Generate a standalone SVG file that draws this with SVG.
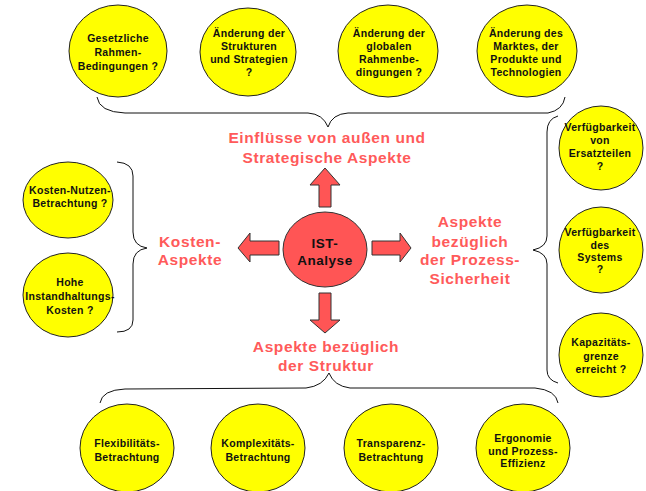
<svg xmlns="http://www.w3.org/2000/svg" width="646" height="491" viewBox="0 0 646 491">
<style>
.y{fill:#FFFF00;stroke:#222;stroke-width:1}
.r{fill:#FF5555;stroke:#333;stroke-width:1}
.t{font-family:"Liberation Sans",Arial,sans-serif;font-weight:bold;font-size:10.5px;fill:#111;text-anchor:middle;letter-spacing:0.3px}
.h{font-family:"Liberation Sans",Arial,sans-serif;font-weight:bold;font-size:15.5px;fill:#FF5A5A;text-anchor:middle;letter-spacing:0.6px}
.c{font-family:"Liberation Sans",Arial,sans-serif;font-weight:bold;font-size:13.5px;fill:#111;text-anchor:middle;letter-spacing:0.5px}
.b{fill:none;stroke:#111;stroke-width:1}
</style>
<rect width="646" height="491" fill="#fff"/>
<g id="connectors">
<path class="b" d="M97,97 Q99,112 125,113 L308,113 Q323,114 328,127 Q332,114 348,113 L548,113 Q563,110 565,97"/>
<path class="b" d="M117,162 Q133,163 133,176 L133,232 Q133,246 147,248 Q133,250 133,264 L133,320 Q133,332 117,332"/>
<path class="b" d="M558,116 Q547,119 547,132 L547,236 Q547,247 533,250 Q547,253 547,264 L547,370 Q547,380 558,383"/>
<path class="b" d="M100,403 Q102,390 125,389 L306,388 Q323,386 329,373 Q334,386 350,388 L535,388 Q556,390 558,403"/>
<polygon class="r" points="319,207 319,185 310,185 325,168 340,185 331,185 331,207"/>
<polygon class="r" points="279,241 250,241 250,233 238,248 250,262 250,255 279,255"/>
<polygon class="r" points="372,241 400,241 400,233 411,248 400,262 400,255 372,255"/>
<polygon class="r" points="319,293 331,293 331,320 340,320 325,333 310,320 319,320"/>
</g>
<g id="ist">
<ellipse class="r" cx="325" cy="249.5" rx="42" ry="37.5"/>
<text class="c" x="325" y="248">IST-</text>
<text class="c" x="325" y="265">Analyse</text>
</g>
<g id="label-top">
<text class="h" x="327" y="143">Einflüsse von außen und</text>
<text class="h" x="327" y="163">Strategische Aspekte</text>
</g>
<g id="label-left">
<text class="h" x="190" y="247">Kosten-</text>
<text class="h" x="190" y="265">Aspekte</text>
</g>
<g id="label-right">
<text class="h" x="470" y="227">Aspekte</text>
<text class="h" x="470" y="247">bezüglich</text>
<text class="h" x="470" y="265">der Prozess-</text>
<text class="h" x="470" y="284">Sicherheit</text>
</g>
<g id="label-bottom">
<text class="h" x="326" y="352">Aspekte bezüglich</text>
<text class="h" x="326" y="371">der Struktur</text>
</g>
<g id="n-gesetzliche">
<ellipse class="y" cx="118" cy="51" rx="49" ry="46"/>
<text class="t" x="118" y="42">Gesetzliche</text>
<text class="t" x="118" y="56">Rahmen-</text>
<text class="t" x="118" y="70">Bedingungen ?</text>
</g>
<g id="n-strukturen">
<ellipse class="y" cx="248" cy="52" rx="48" ry="44"/>
<text class="t" x="249" y="37">Änderung der</text>
<text class="t" x="249" y="50">Strukturen</text>
<text class="t" x="249" y="63">und Strategien</text>
<text class="t" x="249" y="76">?</text>
</g>
<g id="n-global">
<ellipse class="y" cx="388" cy="51" rx="50" ry="46"/>
<text class="t" x="389" y="37">Änderung der</text>
<text class="t" x="389" y="50">globalen</text>
<text class="t" x="389" y="63">Rahmenbe-</text>
<text class="t" x="389" y="76">dingungen ?</text>
</g>
<g id="n-markt">
<ellipse class="y" cx="527" cy="51" rx="50" ry="46"/>
<text class="t" x="526" y="37">Änderung des</text>
<text class="t" x="526" y="50">Marktes, der</text>
<text class="t" x="526" y="63">Produkte und</text>
<text class="t" x="526" y="76">Technologien</text>
</g>
<g id="n-kostennutzen">
<ellipse class="y" cx="68" cy="200" rx="45" ry="38"/>
<text class="t" x="70" y="194">Kosten-Nutzen-</text>
<text class="t" x="70" y="207">Betrachtung ?</text>
</g>
<g id="n-instandhaltung">
<ellipse class="y" cx="68" cy="295" rx="45" ry="42"/>
<text class="t" x="70" y="286">Hohe</text>
<text class="t" x="70" y="300">Instandhaltungs-</text>
<text class="t" x="70" y="314">Kosten ?</text>
</g>
<g id="n-ersatzteile">
<ellipse class="y" cx="601" cy="148" rx="42" ry="42"/>
<text class="t" x="600" y="131">Verfügbarkeit</text>
<text class="t" x="600" y="144">von</text>
<text class="t" x="600" y="157">Ersatzteilen</text>
<text class="t" x="600" y="170">?</text>
</g>
<g id="n-system">
<ellipse class="y" cx="601" cy="250" rx="42" ry="43"/>
<text class="t" x="600" y="236">Verfügbarkeit</text>
<text class="t" x="600" y="249">des</text>
<text class="t" x="600" y="261">Systems</text>
<text class="t" x="600" y="273">?</text>
</g>
<g id="n-kapazitaet">
<ellipse class="y" cx="601" cy="355" rx="42" ry="42"/>
<text class="t" x="601" y="346">Kapazitäts-</text>
<text class="t" x="601" y="360">grenze</text>
<text class="t" x="601" y="373">erreicht ?</text>
</g>
<g id="n-flexibilitaet">
<ellipse class="y" cx="127" cy="448" rx="47" ry="44"/>
<text class="t" x="127" y="447">Flexibilitäts-</text>
<text class="t" x="127" y="461">Betrachtung</text>
</g>
<g id="n-komplexitaet">
<ellipse class="y" cx="258" cy="448" rx="47" ry="44"/>
<text class="t" x="258" y="447">Komplexitäts-</text>
<text class="t" x="258" y="461">Betrachtung</text>
</g>
<g id="n-transparenz">
<ellipse class="y" cx="391" cy="448" rx="47" ry="44"/>
<text class="t" x="391" y="447">Transparenz-</text>
<text class="t" x="391" y="461">Betrachtung</text>
</g>
<g id="n-ergonomie">
<ellipse class="y" cx="523" cy="448" rx="47" ry="44"/>
<text class="t" x="523" y="442">Ergonomie</text>
<text class="t" x="523" y="455">und Prozess-</text>
<text class="t" x="523" y="467">Effizienz</text>
</g>
</svg>
